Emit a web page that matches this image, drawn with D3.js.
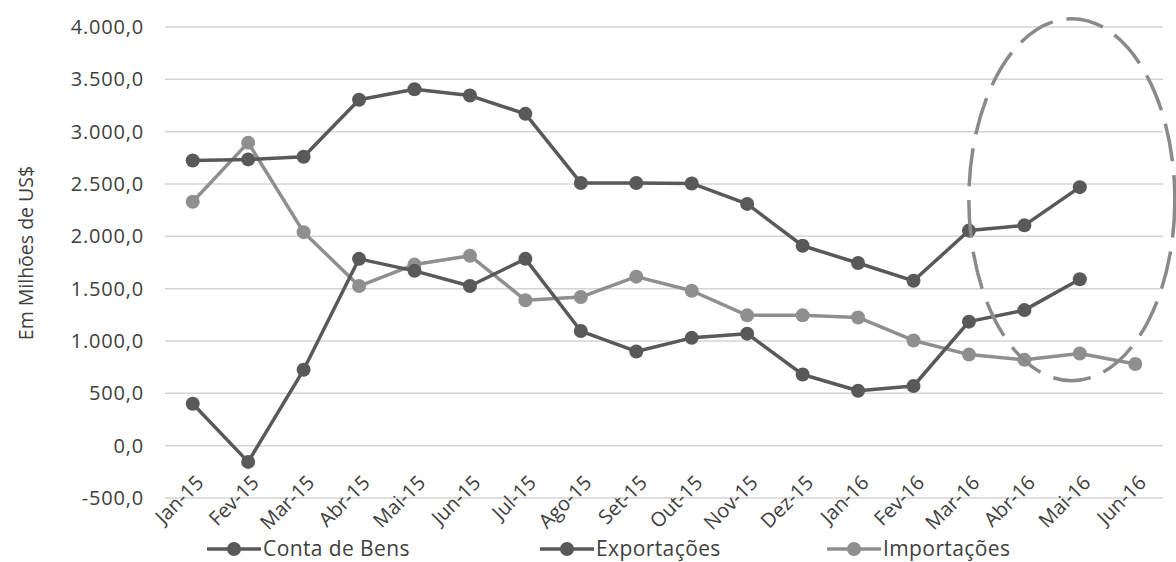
<!DOCTYPE html>
<html><head><meta charset="utf-8">
<script src="https://cdn.jsdelivr.net/npm/d3@7"></script>
<style>
body{margin:0;background:#fff;}
svg{display:block;}
text{font-family:"Open Sans",sans-serif;fill:#404040;}
</style></head>
<body>
<svg id="chart" width="1176" height="562"></svg>
<script>
const categories = ["Jan-15","Fev-15","Mar-15","Abr-15","Mai-15","Jun-15","Jul-15","Ago-15","Set-15","Out-15","Nov-15","Dez-15","Jan-16","Fev-16","Mar-16","Abr-16","Mai-16","Jun-16"];
const contaDeBens = [400,-155,725,1785,1670,1525,1785,1095,900,1030,1070,680,525,570,1185,1295,1590,null];
const exportacoes = [2725,2735,2760,3305,3405,3345,3170,2510,2510,2505,2310,1910,1745,1575,2055,2105,2470,null];
const importacoes = [2330,2895,2040,1525,1730,1815,1390,1420,1615,1480,1245,1245,1225,1005,870,820,880,780];
const yTicks = [-500,0,500,1000,1500,2000,2500,3000,3500,4000];
const seriesNames = ["Conta de Bens","Exportações","Importações"];
const seriesColors = ["#595959","#595959","#8f8f8f"];

const svg = d3.select("#chart");
const mLeft = 165, mRight = 1163, mTop = 27, mBottom = 498;
const x = d3.scaleBand().domain(categories).range([mLeft, mRight]);
const y = d3.scaleLinear().domain([-500, 4000]).range([mBottom, mTop]);
const loc = d3.formatLocale({decimal:",", thousands:".", grouping:[3], currency:["R$",""], minus:"-"});
const fmt = loc.format(",.1f");

// gridlines
svg.append("g").selectAll("line").data(yTicks).join("line")
  .attr("x1", mLeft).attr("x2", mRight)
  .attr("y1", d => y(d)).attr("y2", d => y(d))
  .attr("stroke", "#d4d4d4").attr("stroke-width", 1.5);

// y axis labels
const yAxis = svg.append("g").attr("transform", `translate(${mLeft},0)`)
  .call(d3.axisLeft(y).tickValues(yTicks).tickFormat(fmt).tickSize(0).tickPadding(21));
yAxis.select(".domain").remove();
yAxis.selectAll("text").style("font-size","20px").style("font-family","Open Sans").attr("fill","#404040").attr("letter-spacing","0.8px");

// y title
svg.append("text").attr("transform","translate(33,253) rotate(-90)")
  .attr("text-anchor","middle").style("font-size","19.5px").text("Em Milhões de US$");

// x labels
const xAxis = svg.append("g").attr("transform", `translate(0,${mBottom})`)
  .call(d3.axisBottom(x).tickSize(0));
xAxis.select(".domain").remove();
xAxis.selectAll("text")
  .style("font-size","20px").style("font-family","Open Sans").attr("fill","#404040")
  .attr("text-anchor","end").attr("dy",null).attr("y",0)
  .attr("transform","translate(12,-14) rotate(-45)");

// series
const allSeries = [contaDeBens, exportacoes, importacoes];
const cx = i => x(categories[i]) + x.bandwidth()/2;
[2,1,0].forEach(s => {
  const pts = allSeries[s].map((v,i)=>({v,i})).filter(d=>d.v!=null);
  const g = svg.append("g");
  g.append("path").datum(pts)
    .attr("d", d3.line().x(d => cx(d.i)).y(d => y(d.v)))
    .attr("fill","none").attr("stroke", seriesColors[s]).attr("stroke-width", 3.5).attr("stroke-linejoin","round");
  g.selectAll("circle").data(pts).join("circle")
    .attr("cx", d => cx(d.i)).attr("cy", d => y(d.v))
    .attr("r", 7).attr("fill", seriesColors[s]);
});

// annotation ellipse
svg.append("ellipse")
  .attr("cx", x("Mai-16") + x.bandwidth()/2 - 8).attr("cy", y(2350))
  .attr("rx", 103).attr("ry", 181)
  .attr("fill","none").attr("stroke","#8a8a8a").attr("stroke-width",3.5)
  .attr("stroke-dasharray","38,14");

// legend
const legendX = [207, 540, 827];
seriesNames.forEach((name, i) => {
  const g = svg.append("g").attr("transform", `translate(${legendX[i]},549)`);
  g.append("line").attr("x1",0).attr("x2",54).attr("stroke",seriesColors[i]).attr("stroke-width",3.5);
  g.append("circle").attr("cx",27).attr("r",7).attr("fill",seriesColors[i]);
  g.append("text").attr("x",56).attr("y",7).style("font-size","21px").attr("letter-spacing","0.4px").text(name);
});
</script>
</body></html>
